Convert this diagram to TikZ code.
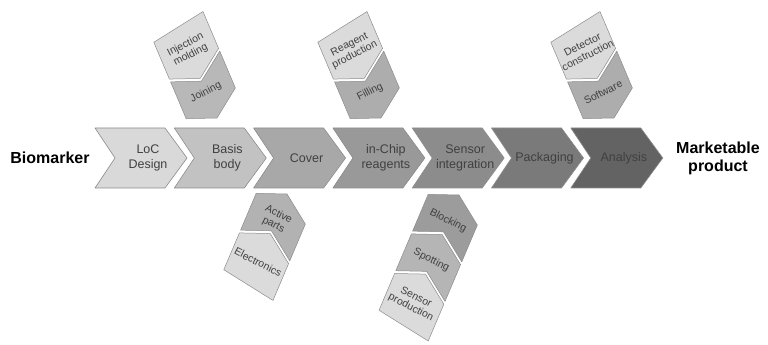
\documentclass[tikz,border=0pt]{standalone}
\usepackage{fontspec}
\setmainfont{Liberation Sans}
\usetikzlibrary{positioning}

\begin{document}
\begin{tikzpicture}[x=1pt, y=1pt,
    chev/.style={draw=black!45, line width=0.6pt, line join=round},
    chevtext/.style={font=\fontsize{12.5}{14.5}\selectfont, text=black!75, align=center},
    endtext/.style={font=\fontsize{16}{18}\selectfont\bfseries, align=center},
    subchev/.style={draw=black!45, line width=0.5pt, line join=round},
    subtext/.style={font=\fontsize{10.5}{11.5}\selectfont, text=black!75, align=center, inner sep=0pt},
    uptext/.style={subtext, rotate=27},
    downtext/.style={subtext, rotate=-27}]
  \useasboundingbox (0,0) rectangle (768,345);

  % main process line
  \foreach \i/\g/\lbl in {0/85/{LoC\\Design}, 1/76/{Basis\\body}, 2/66/Cover, 3/60/{in-Chip\\reagents},
                          4/55/{Sensor\\integration}, 5/48/Packaging, 6/39/Analysis}{
    \draw[chev, fill=white!\g!black] ({95+79.3*\i},217) -- ++(70,0) -- ++(22,-30) -- ++(-22,-30)
      -- ++(-70,0) -- ++(20,30) -- cycle;
    \node[chevtext] (stage\i) at ({95+79.3*\i+53},187) {\lbl};
  }
  \node[endtext] (biomarker) at (50,187) {Biomarker};
  \node[endtext] (product) at (718,187) {Marketable\\product};

  % sub steps above: basis body
  \begin{scope}[shift={(217,227)}, cm={0.848,0.53,-0.39,0.92,(0,0)}]
    \draw[subchev, fill=white!72!black] (0,0) -- (29,16) -- (29,56) -- (0,40) -- (-29,56) -- (-29,16) -- cycle;
    \draw[subchev, fill=white!86!black] (0,43) -- (29,59) -- (29,99) -- (-29,99) -- (-29,59) -- cycle;
    \node[uptext] (joining) at (0,28) {Joining};
    \node[uptext] (molding) at (0,74) {Injection\\molding};
  \end{scope}

  % sub steps above: in-chip reagents
  \begin{scope}[shift={(381,227)}, cm={0.848,0.53,-0.39,0.92,(0,0)}]
    \draw[subchev, fill=white!68!black] (0,0) -- (29,16) -- (29,56) -- (0,40) -- (-29,56) -- (-29,16) -- cycle;
    \draw[subchev, fill=white!86!black] (0,43) -- (29,59) -- (29,99) -- (-29,99) -- (-29,59) -- cycle;
    \node[uptext] (filling) at (0,28) {Filling};
    \node[uptext] (reagent) at (0,74) {Reagent\\production};
  \end{scope}

  % sub steps above: analysis
  \begin{scope}[shift={(614,227)}, cm={0.848,0.53,-0.39,0.92,(0,0)}]
    \draw[subchev, fill=white!68!black] (0,0) -- (29,16) -- (29,56) -- (0,40) -- (-29,56) -- (-29,16) -- cycle;
    \draw[subchev, fill=white!86!black] (0,43) -- (29,59) -- (29,99) -- (-29,99) -- (-29,59) -- cycle;
    \node[uptext] (software) at (0,28) {Software};
    \node[uptext] (detector) at (0,74) {Detector\\construction};
  \end{scope}

  % sub steps below: cover
  \begin{scope}[shift={(287,151)}, cm={0.848,-0.53,0.39,0.92,(0,0)}]
    \draw[subchev, fill=white!70!black] (0,0) -- (29,-16) -- (29,-56) -- (0,-40) -- (-29,-56) -- (-29,-16) -- cycle;
    \draw[subchev, fill=white!86!black] (0,-43) -- (29,-59) -- (29,-99) -- (-29,-99) -- (-29,-59) -- cycle;
    \node[downtext] (active) at (0,-28) {Active\\parts};
    \node[downtext] (electronics) at (0,-74) {Electronics};
  \end{scope}

  % sub steps below: sensor integration
  \begin{scope}[shift={(459,150)}, cm={0.848,-0.53,0.39,0.92,(0,0)}]
    \draw[subchev, fill=white!61!black] (0,0) -- (29,-16) -- (29,-56) -- (0,-40) -- (-29,-56) -- (-29,-16) -- cycle;
    \draw[subchev, fill=white!71!black] (0,-43) -- (29,-59) -- (29,-99) -- (0,-83) -- (-29,-99) -- (-29,-59) -- cycle;
    \draw[subchev, fill=white!86!black] (0,-86) -- (29,-102) -- (29,-142) -- (-29,-142) -- (-29,-102) -- cycle;
    \node[downtext] (blocking) at (0,-28) {Blocking};
    \node[downtext] (spotting) at (0,-71) {Spotting};
    \node[downtext] (sensorprod) at (0,-117) {Sensor\\production};
  \end{scope}
\end{tikzpicture}
\end{document}
